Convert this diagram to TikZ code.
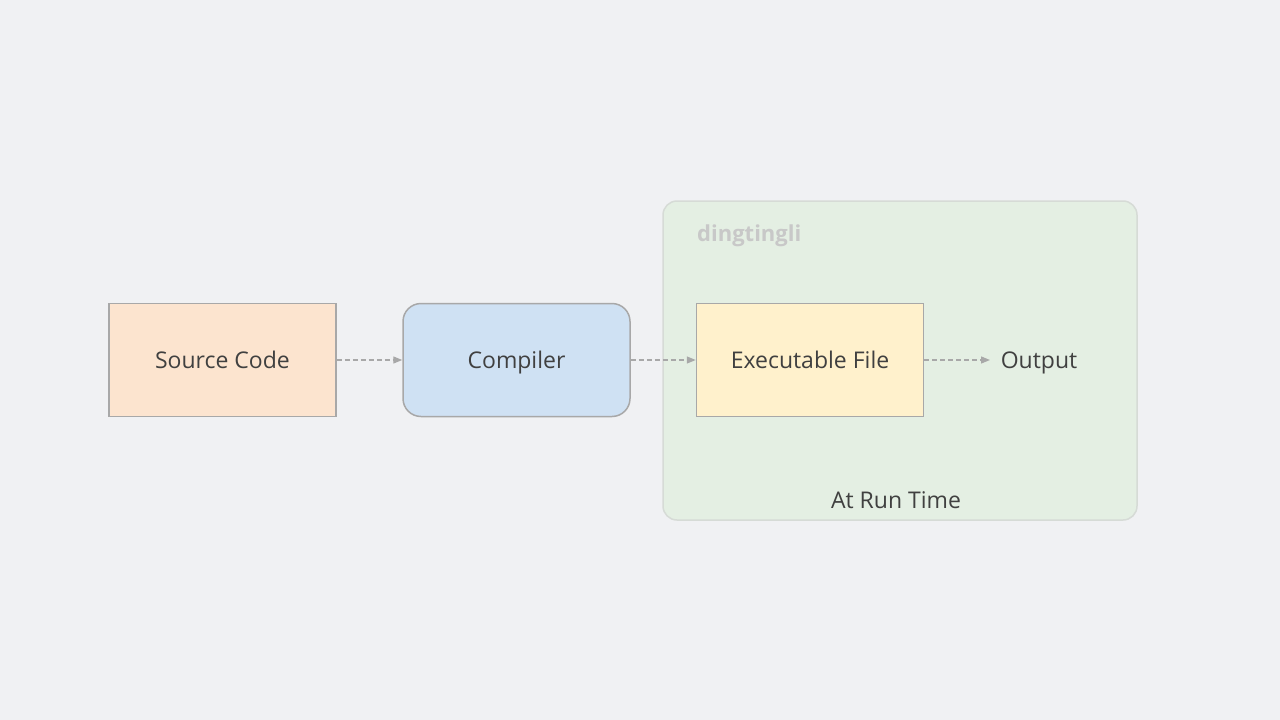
\documentclass[tikz,border=0pt]{standalone}
\usepackage{fontspec}
\setmainfont{Open Sans}
\usetikzlibrary{arrows.meta}
\definecolor{bg}{HTML}{F0F1F3}
\definecolor{edge}{HTML}{A8A8A8}
\definecolor{txt}{HTML}{404040}
\definecolor{srcfill}{HTML}{FCE4CF}
\definecolor{compfill}{HTML}{CFE1F3}
\definecolor{exefill}{HTML}{FFF1CC}
\definecolor{grpfill}{HTML}{E4EFE3}
\definecolor{grpedge}{HTML}{D6DBD6}
\definecolor{wm}{HTML}{C8C8C8}
\begin{document}
\begin{tikzpicture}[x=1pt,y=-1pt,
  box/.style={draw=edge,line width=1.5pt,minimum width=227pt,minimum height=113pt,inner sep=0pt,text=txt,font=\fontsize{23}{27}\selectfont,text height=16pt,text depth=0pt},
  conn/.style={draw=edge,line width=1.3pt,dash pattern=on 5pt off 3pt,-{Triangle[length=9pt,width=7pt]}},
  lbl/.style={text=txt,font=\fontsize{23}{27}\selectfont,inner sep=0pt,text height=16pt,text depth=0pt}]
\fill[bg] (0,0) rectangle (1280,720);
\useasboundingbox (0,0) rectangle (1280,720);
\draw[grpedge,fill=grpfill,line width=1.5pt,rounded corners=14pt] (663,201) rectangle (1137,520);
\node[anchor=base west,text=wm,font=\fontsize{22}{26}\selectfont\bfseries,inner sep=0pt] (wm) at (697,241) {dingtingli};
\node[box,fill=srcfill] (src) at (222.5,360) {Source Code};
\node[box,fill=compfill,rounded corners=18pt] (comp) at (516.5,360) {Compiler};
\node[box,fill=exefill] (exe) at (810,360) {Executable File};
\node[lbl] (out) at (1039,360.5) {Output};
\node[lbl] (rt) at (896,500) {At Run Time};
\draw[conn] (src.east) -- (comp.west);
\draw[conn] (comp.east) -- (exe.west);
\draw[conn] (exe.east) -- (990,360);
\end{tikzpicture}
\end{document}
